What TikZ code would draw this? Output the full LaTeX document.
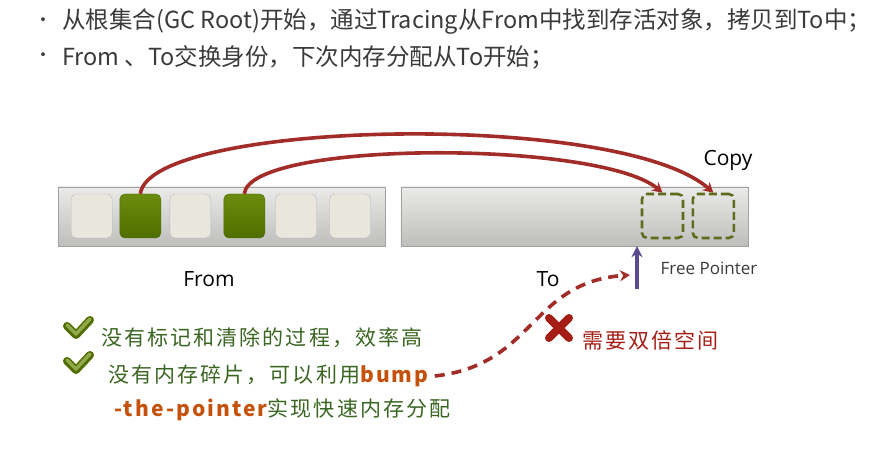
\documentclass[tikz,border=0pt]{standalone}
\usepackage{fontspec}
\setmainfont{Noto Sans CJK SC}
\newfontfamily\spaced[LetterSpace=10]{Noto Sans CJK SC}
\newfontfamily\lat{Open Sans}
\usetikzlibrary{arrows.meta}

\definecolor{txtgray}{HTML}{3A3A3A}
\definecolor{barlight}{HTML}{EAEAE8}
\definecolor{bardark}{HTML}{BEBEBC}
\definecolor{cellcream}{HTML}{E9E7DD}
\definecolor{cellgreen}{HTML}{6C8C0E}
\definecolor{cellgreendark}{HTML}{506E00}
\definecolor{olive}{HTML}{5E6C1C}
\definecolor{copyred}{HTML}{A22C28}
\definecolor{pointer}{HTML}{5A4A8E}
\definecolor{okgreen}{HTML}{3A6622}
\definecolor{bumporange}{HTML}{C4520C}
\definecolor{badred}{HTML}{A41E16}

\begin{document}
\begin{tikzpicture}[x=1pt,y=-1pt]
\useasboundingbox (0,0) rectangle (889,457);

% bullet lines
\begin{scope}[every node/.style={anchor=west,inner sep=0pt,text=txtgray,
                                 font=\fontsize{23.5}{23.5}\selectfont}]
    \node (dot1) at (34,22) [font=\fontsize{18}{18}\selectfont] {•};
    \node (line1) at (62,22) {从根集合(GC Root)开始，通过Tracing从From中找到存活对象，拷贝到To中；};
    \node (dot2) at (34,57) [font=\fontsize{18}{18}\selectfont] {•};
    \node (line2) at (62,57) {From 、To交换身份，下次内存分配从To开始；};
\end{scope}

% the two spaces
\begin{scope}[every node/.style={draw=bardark!85!black,rectangle,minimum height=59pt,
                                 top color=barlight,bottom color=bardark,inner sep=0pt}]
    \node (from) at (221.5,216.5) [minimum width=327pt] {};
    \node (to) at (574.3,216.5) [minimum width=347pt] {};
\end{scope}

\begin{scope}[every node/.style={rectangle,rounded corners=5pt,minimum width=41pt,
                                 minimum height=44pt,inner sep=0pt}]
    \node (c1) at (91.7,216) [draw=gray!55,fill=cellcream] {};
    \node (c2) at (140.3,216) [draw=cellgreendark,top color=cellgreen,bottom color=cellgreendark] {};
    \node (c3) at (190.3,216) [draw=gray!55,fill=cellcream] {};
    \node (c4) at (244.3,216) [draw=cellgreendark,top color=cellgreen,bottom color=cellgreendark] {};
    \node (c5) at (296,216) [draw=gray!55,fill=cellcream] {};
    \node (c6) at (350,216) [draw=gray!55,fill=cellcream] {};
    \node (d1) at (662.5,216) [draw=olive,line width=2.6pt,dash pattern=on 8pt off 4pt] {};
    \node (d2) at (713.3,216) [draw=olive,line width=2.6pt,dash pattern=on 8pt off 4pt] {};
\end{scope}

% labels
\begin{scope}[every node/.style={inner sep=0pt,text=black,font=\lat\fontsize{21}{21}\selectfont}]
    \node (fromlbl) at (209,279) {From};
    \node (tolbl) at (548,279) {To};
    \node (copylbl) at (728,160) {Copy};
    \node (fplbl) at (709,268) [font=\lat\fontsize{17}{17}\selectfont,text=txtgray] {Free Pointer};
\end{scope}

% copy arrows
\begin{scope}[>={Stealth[length=10pt,width=11pt]},line width=3.6pt,draw=copyred]
    \draw [->] (c2.north) .. controls (150,120) and (620,110) .. (d2.north);
    \draw [->] (c4.north) .. controls (250,140) and (600,140) .. (d1.north);
\end{scope}

% free pointer
\coordinate (fp) at (637,289);
\draw [pointer,line width=3.4pt,-{Stealth[length=11pt,width=11pt]}] (fp) -- (fp |- to.south);

% advantages
\begin{scope}[every node/.style={anchor=west,inner sep=0pt,
                                 font=\spaced\fontsize{21}{21}\selectfont}]
    \node (ok1) at (101,338) [text=okgreen] {没有标记和清除的过程，效率高};
    \node (ok2) at (108,376) [text=okgreen] {没有内存碎片，可以利用\textcolor{bumporange}{\bfseries bump}};
    \node (ok3) at (114,410) [text=okgreen] {\textcolor{bumporange}{\bfseries -the-pointer}实现快速内存分配};
    \node (bad) at (582,340) [text=badred] {需要双倍空间};
\end{scope}

% ticks and cross
\begin{scope}[line width=8pt,line cap=round,line join=round]
    \draw [cellgreendark] (67,326) -- (76,335) -- (90,320);
    \draw [cellgreendark] (67,361) -- (76,370) -- (90,355);
    \draw [cellgreen!75!white,line width=3.5pt] (67,325) -- (76,334) -- (90,319);
    \draw [cellgreen!75!white,line width=3.5pt] (67,360) -- (76,369) -- (90,354);
    \draw [badred] (549,318) -- (569,338) (569,318) -- (549,338);
\end{scope}

% to the free pointer
\coordinate (fpin) at (630,275);
\draw [copyred,line width=3.6pt,dash pattern=on 10pt off 7pt,-{Stealth[length=10pt,width=11pt]}]
    ([xshift=6pt]ok2.east) .. controls (535,365) and (530,282) .. (fpin);
\end{tikzpicture}
\end{document}
